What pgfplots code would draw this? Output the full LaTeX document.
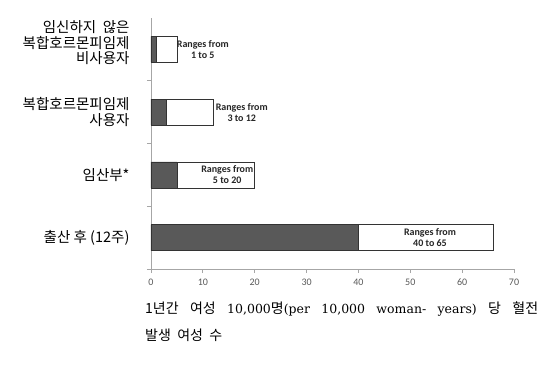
\documentclass[border=0pt]{standalone}
\usepackage{fontspec}
\setmainfont{DejaVu Serif}
\newfontfamily\krfont{Noto Sans CJK KR}
\newfontfamily\calfont{Carlito}
\usepackage{pgfplots}
\pgfplotsset{compat=1.18}
\definecolor{darkbar}{HTML}{595959}
\definecolor{axisgray}{HTML}{A6A6A6}
\definecolor{ticktext}{HTML}{595959}
\newcommand{\kx}[1]{{\krfont\fontsize{14}{27}\selectfont #1}}
\begin{document}
\begin{tikzpicture}
\useasboundingbox (-151pt,-98pt) rectangle (400pt,269pt);
\begin{axis}[
  at={(0pt,0pt)}, anchor=south west,
  scale only axis, width=363pt, height=251pt,
  xbar stacked, bar width=26pt,
  xmin=0, xmax=70, ymin=-0.5, ymax=3.5,
  axis x line*=bottom, axis y line*=left,
  axis line style={draw=axisgray, line width=0.8pt},
  tick style={draw=axisgray, line width=0.8pt},
  tick align=outside, major tick length=4pt,
  xtick={0,10,...,70},
  ytick={-0.5,0.5,1.5,2.5}, yticklabels={},
  extra y ticks={0,1,2,3},
  extra y tick labels={{출산 후 (12주)},{임산부*},{복합호르몬피임제\\사용자},{임신하지\hspace{0.45em}않은\\복합호르몬피임제\\비사용자\\[-1pt]\mbox{}}},
  extra y tick style={major tick length=0pt,
    yticklabel style={font=\krfont\fontsize{14.5}{15.5}\selectfont, align=right, xshift=-18pt, text=black}},
  xticklabel style={font=\calfont\fontsize{10}{12}\selectfont, text=ticktext, yshift=-2pt},
  /pgf/number format/assume math mode=true,
  xlabel={\parbox{393pt}{\fontsize{12.5}{27}\selectfont \kx{1년간} \kx{여성} 10,000\kx{명}(per 10,000 woman- years) \kx{당} \kx{혈전}\linebreak \kx{발생\hspace{0.45em}여성\hspace{0.45em}수}}},
  xlabel style={at={(axis description cs:0,0)}, anchor=north west, xshift=-6pt, yshift=-33pt, inner sep=0pt},
]
\addplot[fill=darkbar, draw=black!80, line width=0.7pt] coordinates {(40,0) (5,1) (3,2) (1,3)};
\addplot[fill=white, draw=black!80, line width=0.7pt] coordinates {(26,0) (15,1) (9,2) (4,3)};
\coordinate (r1) at (axis cs:10,3);
\coordinate (r2) at (axis cs:17.5,2);
\coordinate (r3) at (axis cs:14.7,1);
\coordinate (r4) at (axis cs:53.8,0);
\end{axis}
\begin{scope}[every node/.style={font=\calfont\bfseries\fontsize{10}{11}\selectfont, align=center, text=black!85}]
\node at (r1) {Ranges from\\1 to 5};
\node at (r2) {Ranges from\\3 to 12};
\node at (r3) {Ranges from\\5 to 20};
\node at (r4) {Ranges from\\40 to 65};
\end{scope}
\end{tikzpicture}
\end{document}
